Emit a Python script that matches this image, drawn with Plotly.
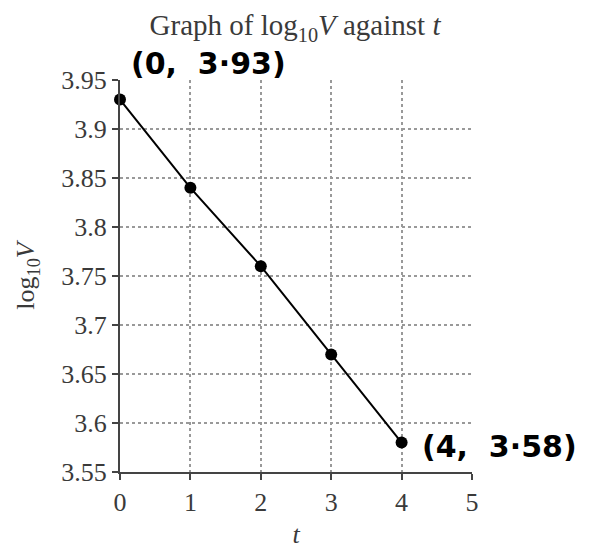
import plotly.graph_objects as go

t_values = [0, 1, 2, 3, 4]
logV_values = [3.93, 3.84, 3.76, 3.67, 3.58]

x_ticks = [0, 1, 2, 3, 4, 5]
y_ticks = [3.55, 3.6, 3.65, 3.7, 3.75, 3.8, 3.85, 3.9, 3.95]
y_tick_text = ["3.55", "3.6", "3.65", "3.7", "3.75", "3.8", "3.85", "3.9", "3.95"]

notes = [(0, 3.93, "(0,&nbsp; 3·93)"), (4, 3.58, "(4,&nbsp; 3·58)")]

serif = "Liberation Serif, Times New Roman, serif"
ink = "#3a3a3a"

fig = go.Figure()
fig.add_trace(go.Scatter(
    x=t_values, y=logV_values, mode="lines+markers",
    line=dict(color="black", width=2),
    marker=dict(color="black", size=12),
    showlegend=False, cliponaxis=False,
))

fig.add_annotation(x=notes[0][0], y=notes[0][1], text="<b>" + notes[0][2] + "</b>", showarrow=False,
                   xanchor="left", yanchor="middle", xshift=9, yshift=36,
                   font=dict(family="DejaVu Sans", size=30, color="black"))
fig.add_annotation(x=notes[1][0], y=notes[1][1], text="<b>" + notes[1][2] + "</b>", showarrow=False,
                   xanchor="left", yanchor="middle", xshift=18, yshift=-4,
                   font=dict(family="DejaVu Sans", size=30, color="black"))

axis_common = dict(
    showline=True, linecolor="#444444", linewidth=2,
    showgrid=True, gridcolor="#999999", griddash="dot", gridwidth=1.5,
    ticks="outside", ticklen=6, tickcolor="#444444", tickwidth=1.5,
    tickfont=dict(family=serif, size=26, color=ink),
    zeroline=False, mirror=False, automargin=False,
)

# page body has an 8px margin, so the figure is sized and offset to compensate
fig.update_layout(
    width=581, height=541,
    margin=dict(l=112, r=117, t=72, b=77),
    paper_bgcolor="white", plot_bgcolor="white",
    title=dict(text="Graph of log<sub>10</sub><i>V</i> against <i>t</i>",
               x=0.494, xanchor="center", y=0.968, yanchor="middle",
               font=dict(family=serif, size=29, color=ink)),
    xaxis=dict(range=[0, 5], tickvals=x_ticks,
               title=dict(text="<i>t</i>", font=dict(family=serif, size=26, color=ink), standoff=12),
               **axis_common),
    yaxis=dict(range=[3.55, 3.95], tickvals=y_ticks, ticktext=y_tick_text,
               title=dict(text="log<sub>10</sub><i>V</i>", font=dict(family=serif, size=26, color=ink), standoff=19),
               **axis_common),
)

fig.write_html("out.html")
